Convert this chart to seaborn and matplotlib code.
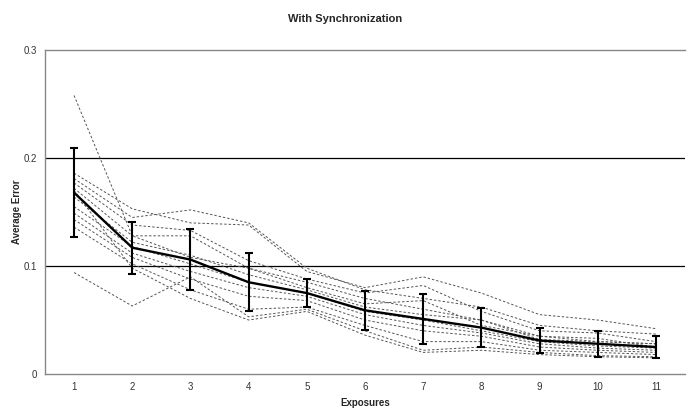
import numpy as np
import pandas as pd
import matplotlib
matplotlib.use("Agg")
import matplotlib.pyplot as plt
import seaborn as sns

# exposures on the x axis
exposures = [1, 2, 3, 4, 5, 6, 7, 8, 9, 10, 11]

# individual runs (dashed lines)
run01 = [0.258, 0.128, 0.108, 0.098, 0.085, 0.070, 0.060, 0.050, 0.035, 0.030, 0.028]
run02 = [0.186, 0.153, 0.140, 0.138, 0.095, 0.080, 0.090, 0.075, 0.055, 0.050, 0.042]
run03 = [0.181, 0.145, 0.152, 0.140, 0.098, 0.078, 0.070, 0.062, 0.045, 0.040, 0.037]
run04 = [0.177, 0.138, 0.133, 0.105, 0.088, 0.075, 0.082, 0.058, 0.040, 0.038, 0.030]
run05 = [0.172, 0.128, 0.128, 0.098, 0.080, 0.065, 0.068, 0.045, 0.035, 0.033, 0.025]
run06 = [0.164, 0.122, 0.110, 0.092, 0.078, 0.062, 0.055, 0.050, 0.032, 0.030, 0.028]
run07 = [0.155, 0.118, 0.102, 0.085, 0.075, 0.058, 0.050, 0.040, 0.030, 0.026, 0.024]
run08 = [0.149, 0.112, 0.095, 0.080, 0.072, 0.055, 0.045, 0.038, 0.028, 0.024, 0.022]
run09 = [0.143, 0.108, 0.088, 0.072, 0.068, 0.050, 0.040, 0.035, 0.025, 0.022, 0.020]
run10 = [0.136, 0.102, 0.078, 0.060, 0.062, 0.045, 0.030, 0.030, 0.022, 0.020, 0.018]
run11 = [0.094, 0.063, 0.090, 0.053, 0.060, 0.040, 0.022, 0.025, 0.020, 0.017, 0.016]
run12 = [0.170, 0.098, 0.070, 0.050, 0.058, 0.036, 0.020, 0.022, 0.018, 0.016, 0.015]

# average line and error bar half widths
mean_err = [0.168, 0.117, 0.106, 0.085, 0.075, 0.059, 0.051, 0.043, 0.031, 0.028, 0.025]
err_size = [0.041, 0.024, 0.028, 0.027, 0.013, 0.018, 0.023, 0.018, 0.012, 0.012, 0.010]

y_ticks = [0, 0.1, 0.2, 0.3]
y_labels = ["0", "0.1", "0.2", "0.3"]

runs = [run01, run02, run03, run04, run05, run06,
        run07, run08, run09, run10, run11, run12]
rows = []
for i, r in enumerate(runs):
    for x, v in zip(exposures, r):
        rows.append({"run": i, "exposure": x, "error": v})
df = pd.DataFrame(rows)

sns.set_style("white")
plt.rcParams["font.family"] = ["Liberation Sans", "DejaVu Sans"]

fig = plt.figure(figsize=(6.9, 4.11), dpi=100)
ax = fig.add_axes([0.0652, 0.090, 0.9276, 0.788])

sns.lineplot(data=df, x="exposure", y="error", units="run", estimator=None,
             color="#555555", linewidth=0.7, ax=ax, legend=False)
for line in ax.get_lines():
    line.set_dashes((2.5, 2))

ax.errorbar(exposures, mean_err, yerr=err_size, color="black", linewidth=1.7,
            elinewidth=1.5, capsize=3, capthick=1.5, zorder=5)

ax.set_xlim(0.5, 11.5)
ax.set_ylim(0, 0.3)
ax.set_xticks(exposures)
ax.set_xticklabels([str(x) for x in exposures], fontsize=7, color="#333333")
ax.set_yticks(y_ticks)
ax.set_yticklabels(y_labels, fontsize=7, color="#333333")
ax.tick_params(axis="both", length=0, pad=6)
ax.set_xticks(np.arange(0.5, 12, 1), minor=True)
ax.tick_params(axis="x", which="minor", length=3, direction="in", color="#666666")
ax.set_yticks(y_ticks, minor=True)
ax.tick_params(axis="y", which="minor", length=3, direction="out", color="#666666")

for y in [0.1, 0.2]:
    ax.axhline(y, color="black", linewidth=0.9, zorder=1)

for side in ["left", "bottom", "top"]:
    ax.spines[side].set_color("#888888")
    ax.spines[side].set_linewidth(1.0)
ax.spines["right"].set_visible(False)

ax.set_xlabel("Exposures", fontsize=7, fontweight="bold", labelpad=4)
ax.set_ylabel("Average Error", fontsize=7, fontweight="bold", labelpad=1)
fig.suptitle("With Synchronization", fontsize=8, fontweight="bold", y=0.965)

fig.savefig("out.png", dpi=100)
